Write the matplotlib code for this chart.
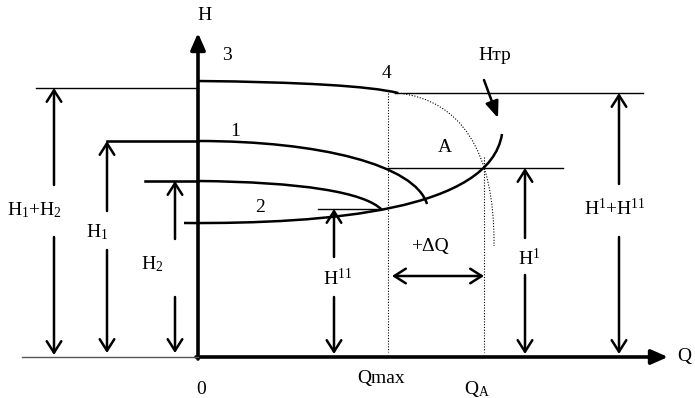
import matplotlib
matplotlib.use("Agg")
import matplotlib.pyplot as plt
from matplotlib.path import Path
from matplotlib.patches import PathPatch, FancyArrowPatch

plt.rcParams['font.family'] = ['Liberation Serif', 'DejaVu Serif']
plt.rcParams['mathtext.fontset'] = 'custom'
plt.rcParams['mathtext.rm'] = 'Liberation Serif'
plt.rcParams['mathtext.it'] = 'Liberation Serif:italic'

# схема в координатах рисунка (пиксели, y вниз)
# характеристики насосов: кубические кривые Безье (P0, P1, P2, P3)
curve3 = [(198, 81), (300, 82), (370, 86), (398, 93)]
curve1 = [(198, 141), (320, 141), (415, 165), (427, 204)]
curve2 = [(198, 181), (300, 182), (365, 192), (382, 210)]
curve_htr = [(184, 223), (330, 224), (490, 210), (502, 134)]
curve_dotted = [(398, 93), (460, 100), (495, 150), (494, 246)]

# уровни напора: (x0, x1, y)
level_lines = [
    (36, 198, 88),     # H1+H2
    (107, 198, 141),   # H1
    (145, 198, 181),   # H2
    (318, 382, 209),   # H11
    (388, 563, 168),   # H1 (точка A)
    (395, 643, 93),    # H1+H11
]
# пунктирные вертикали: (x, y0, y1)
dotted_v = [(388, 93, 352), (484, 157, 352)]

# стрелки размеров: (x, y верх. стрелки от, наконечник, y нижней от, наконечник)
dim_arrows = [
    (54, 185, 88, 237, 355),
    (107, 211, 141, 250, 353),
    (175, 239, 181, 297, 353),
    (334, 257, 209, 297, 354),
    (525, 238, 168, 275, 354),
    (619, 184, 93, 237, 354),
]
labels = [
    (34, 210, r'$\mathrm{H_1{+}H_2}$'),
    (97, 232, r'$\mathrm{H_1}$'),
    (152, 264, r'$\mathrm{H_2}$'),
    (338, 279, r'$\mathrm{H^{11}}$'),
    (529, 259, r'$\mathrm{H^{1}}$'),
    (615, 209, r'$\mathrm{H^{1}{+}H^{11}}$'),
    (430, 247, '+ΔQ'),
    (495, 55, 'Нтр'),
    (445, 147, 'A'),
    (235, 132, '1'),
    (260, 207, '2'),
    (227, 55, '3'),
    (386, 73, '4'),
    (205, 15, 'H'),
    (684, 357, 'Q'),
    (201, 389, '0'),
    (381, 378, 'Qmax'),
    (477, 389, r'$\mathrm{Q_A}$'),
]

fig = plt.figure(figsize=(6.95, 3.98), dpi=100)
ax = fig.add_axes([0, 0, 1, 1])
ax.set_xlim(0, 695)
ax.set_ylim(398, 0)
ax.axis('off')

bez = [Path.MOVETO, Path.CURVE4, Path.CURVE4, Path.CURVE4]
for pts in (curve3, curve1, curve2, curve_htr):
    ax.add_patch(PathPatch(Path(pts, bez), fill=False, lw=1.8, color='black', capstyle='butt'))
ax.add_patch(PathPatch(Path(curve_dotted, bez), fill=False, lw=0.8, color='black',
                       linestyle=(0, (1, 1.5))))

for x0, x1, y in level_lines:
    ax.plot([x0, x1], [y, y], color='black', lw=1.0)
ax.plot([107, 198], [141, 141], color='black', lw=1.8)
ax.plot([145, 198], [181, 181], color='black', lw=1.8)
for x, y0, y1 in dotted_v:
    ax.plot([x, x], [y0, y1], color='black', lw=0.8, linestyle=(0, (1, 1.5)))

# оси
ax.plot([22, 198], [357, 357], color='#555555', lw=1.0)
ax.add_patch(FancyArrowPatch((198, 359), (198, 33), arrowstyle='-|>,head_length=0.5,head_width=0.22',
                             mutation_scale=20, lw=2.6, color='black', shrinkA=0, shrinkB=0))
ax.add_patch(FancyArrowPatch((196, 357), (668, 357), arrowstyle='-|>,head_length=0.5,head_width=0.22',
                             mutation_scale=20, lw=2.6, color='black', shrinkA=0, shrinkB=0))

head = '->,head_length=0.55,head_width=0.35'
for x, ya, yat, yb, ybt in dim_arrows:
    ax.add_patch(FancyArrowPatch((x, ya), (x, yat), arrowstyle=head, mutation_scale=15,
                                 lw=1.8, color='black', shrinkA=0, shrinkB=0))
    ax.add_patch(FancyArrowPatch((x, yb), (x, ybt), arrowstyle=head, mutation_scale=15,
                                 lw=1.8, color='black', shrinkA=0, shrinkB=0))
ax.add_patch(FancyArrowPatch((392, 276), (484, 276), arrowstyle='<->,head_length=0.55,head_width=0.35',
                             mutation_scale=15, lw=1.8, color='black', shrinkA=0, shrinkB=0))
ax.add_patch(FancyArrowPatch((484, 80), (498, 118), arrowstyle='-|>,head_length=0.5,head_width=0.2',
                             mutation_scale=20, lw=1.8, color='black', shrinkA=0, shrinkB=0))

for x, y, s in labels:
    ax.text(x, y, s, fontsize=14, ha='center', va='center')

fig.savefig('out.png', dpi=100)
